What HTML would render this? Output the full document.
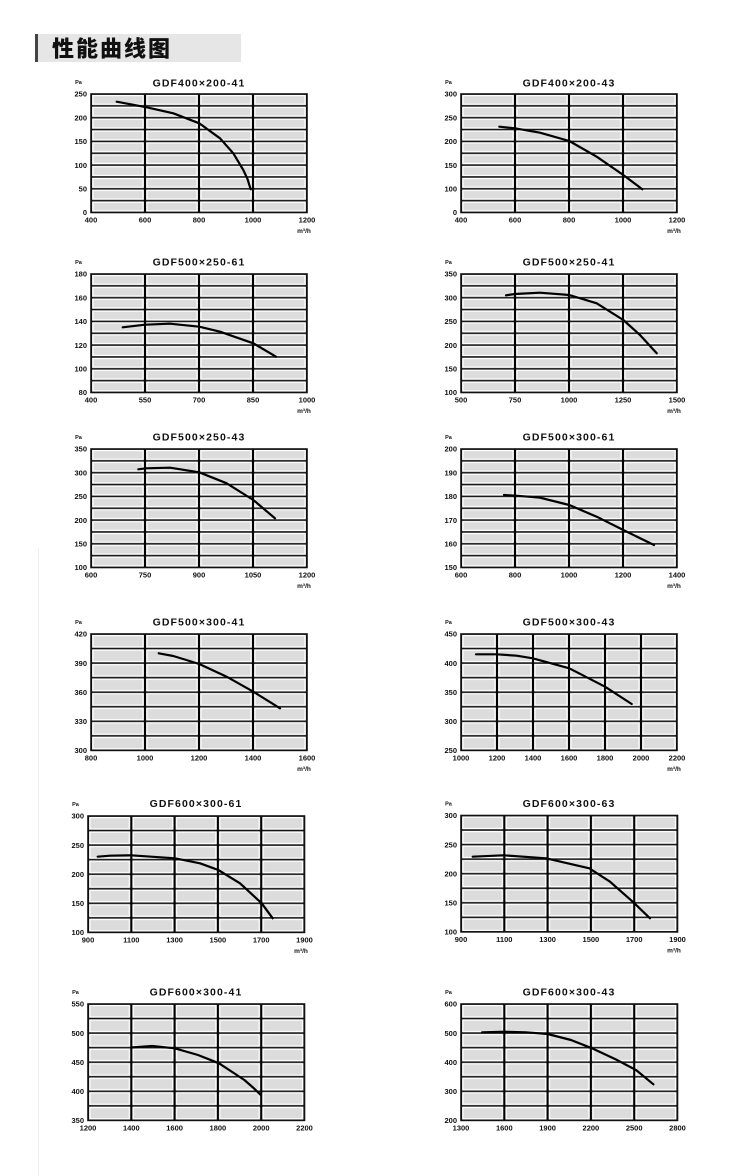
<!DOCTYPE html>
<html><head><meta charset="utf-8"><style>
html,body{margin:0;padding:0;background:#fff;}
svg{display:block;}
.t{font-family:"Liberation Sans",sans-serif;font-weight:bold;font-size:10.5px;letter-spacing:1.1px;text-anchor:middle;fill:#111;}
.y{font-family:"Liberation Sans",sans-serif;font-weight:bold;font-size:7.5px;text-anchor:end;fill:#111;}
.x{font-family:"Liberation Sans",sans-serif;font-weight:bold;font-size:7.5px;text-anchor:middle;fill:#111;}
.p{font-family:"Liberation Sans",sans-serif;font-weight:bold;font-size:5.5px;text-anchor:middle;fill:#111;}
.u{font-family:"Liberation Sans",sans-serif;font-weight:bold;font-size:6.5px;text-anchor:middle;fill:#111;}
.c{fill:none;stroke:#000;stroke-width:2.2;stroke-linejoin:round;stroke-linecap:round;}
.b{fill:none;stroke:#111;stroke-width:1.6;}
</style></head><body>
<svg width="750" height="1176" viewBox="0 0 750 1176" xmlns="http://www.w3.org/2000/svg">
<defs>
<pattern id="pA" patternUnits="userSpaceOnUse" width="54" height="11.85">
<rect width="54" height="11.85" fill="#fff"/>
<rect x="2.6" y="2.2" width="48.8" height="7.45" fill="#dcdcdc"/>
<rect width="54" height="0.8" fill="#111"/>
<rect y="11.05" width="54" height="0.8" fill="#111"/>
<rect width="1.1" height="11.85" fill="#000"/>
<rect x="52.9" width="1.1" height="11.85" fill="#000"/>
</pattern>
<pattern id="pC" patternUnits="userSpaceOnUse" width="54" height="14.55">
<rect width="54" height="14.55" fill="#fff"/>
<rect x="2.6" y="2.2" width="48.8" height="10.15" fill="#dcdcdc"/>
<rect width="54" height="0.8" fill="#111"/>
<rect y="13.75" width="54" height="0.8" fill="#111"/>
<rect width="1.1" height="14.55" fill="#000"/>
<rect x="52.9" width="1.1" height="14.55" fill="#000"/>
</pattern>
<pattern id="pD" patternUnits="userSpaceOnUse" width="36" height="14.55">
<rect width="36" height="14.55" fill="#fff"/>
<rect x="2.6" y="2.2" width="30.8" height="10.15" fill="#dcdcdc"/>
<rect width="36" height="0.8" fill="#111"/>
<rect y="13.75" width="36" height="0.8" fill="#111"/>
<rect width="1.1" height="14.55" fill="#000"/>
<rect x="34.9" width="1.1" height="14.55" fill="#000"/>
</pattern>
<pattern id="pE" patternUnits="userSpaceOnUse" width="43.3" height="14.55">
<rect width="43.3" height="14.55" fill="#fff"/>
<rect x="2.6" y="2.2" width="38.1" height="10.15" fill="#dcdcdc"/>
<rect width="43.3" height="0.8" fill="#111"/>
<rect y="13.75" width="43.3" height="0.8" fill="#111"/>
<rect width="1.1" height="14.55" fill="#000"/>
<rect x="42.2" width="1.1" height="14.55" fill="#000"/>
</pattern>
</defs>

<!-- header -->
<rect x="35" y="34" width="206" height="28" fill="#e6e6e6"/>
<rect x="35" y="34" width="3" height="28" fill="#444"/>
<text x="52" y="56.5" style="font-family:'Liberation Sans','Noto Sans CJK SC',sans-serif;font-weight:900;font-size:22px;letter-spacing:2px;fill:#111;">性能曲线图</text>
<line x1="38.5" y1="548" x2="38.5" y2="1176" stroke="#efefef" stroke-width="1"/>

<!-- Chart 1 -->
<g transform="translate(91,94)">
<rect width="216" height="118.5" fill="url(#pA)"/>
<rect width="216" height="118.5" class="b"/>
<polyline class="c" points="25.7,7.7 55.7,13.3 82.3,19.3 108.3,29.3 129,44.3 142.3,59.3 152.3,76 156.5,85 159.7,95.3"/>
<text class="t" x="108" y="-7.5">GDF400×200-41</text>
<text class="p" x="-12.5" y="-10">Pa</text>
<text class="y" x="-4" y="2.7">250</text><text class="y" x="-4" y="26.4">200</text><text class="y" x="-4" y="50.1">150</text><text class="y" x="-4" y="73.8">100</text><text class="y" x="-4" y="97.5">50</text><text class="y" x="-4" y="121.2">0</text>
<text class="x" x="0" y="128.5">400</text><text class="x" x="54" y="128.5">600</text><text class="x" x="108" y="128.5">800</text><text class="x" x="162" y="128.5">1000</text><text class="x" x="216" y="128.5">1200</text>
<text class="u" x="213" y="139">m³/h</text>
</g>

<!-- Chart 2 -->
<g transform="translate(461,94)">
<rect width="216" height="118.5" fill="url(#pA)"/>
<rect width="216" height="118.5" class="b"/>
<polyline class="c" points="38.3,32.7 54,34.3 79,38.7 108.3,47 135.7,62.7 162.3,81 181.3,95.3"/>
<text class="t" x="108" y="-7.5">GDF400×200-43</text>
<text class="p" x="-12.5" y="-10">Pa</text>
<text class="y" x="-4" y="2.7">300</text><text class="y" x="-4" y="26.4">250</text><text class="y" x="-4" y="50.1">200</text><text class="y" x="-4" y="73.8">150</text><text class="y" x="-4" y="97.5">100</text><text class="y" x="-4" y="121.2">0</text>
<text class="x" x="0" y="128.5">400</text><text class="x" x="54" y="128.5">600</text><text class="x" x="108" y="128.5">800</text><text class="x" x="162" y="128.5">1000</text><text class="x" x="216" y="128.5">1200</text>
<text class="u" x="213" y="139">m³/h</text>
</g>

<!-- Chart 3 -->
<g transform="translate(91,274)">
<rect width="216" height="118.5" fill="url(#pA)"/>
<rect width="216" height="118.5" class="b"/>
<polyline class="c" points="31.7,53.3 54,50.7 79,49.7 108.3,52.7 129,57.7 162.3,69.3 185,82.7"/>
<text class="t" x="108" y="-8.6">GDF500×250-61</text>
<text class="p" x="-12.5" y="-10">Pa</text>
<text class="y" x="-4" y="2.7">180</text><text class="y" x="-4" y="26.4">160</text><text class="y" x="-4" y="50.1">140</text><text class="y" x="-4" y="73.8">120</text><text class="y" x="-4" y="97.5">100</text><text class="y" x="-4" y="121.2">80</text>
<text class="x" x="0" y="128.5">400</text><text class="x" x="54" y="128.5">550</text><text class="x" x="108" y="128.5">700</text><text class="x" x="162" y="128.5">850</text><text class="x" x="216" y="128.5">1000</text>
<text class="u" x="213" y="139">m³/h</text>
</g>

<!-- Chart 4 -->
<g transform="translate(461,274)">
<rect width="216" height="118.5" fill="url(#pA)"/>
<rect width="216" height="118.5" class="b"/>
<polyline class="c" points="45,21.3 54,20 79,18.7 108.3,21 135.7,29.3 162.3,46 179,61 195.7,79.3"/>
<text class="t" x="108" y="-8.6">GDF500×250-41</text>
<text class="p" x="-12.5" y="-10">Pa</text>
<text class="y" x="-4" y="2.7">350</text><text class="y" x="-4" y="26.4">300</text><text class="y" x="-4" y="50.1">250</text><text class="y" x="-4" y="73.8">200</text><text class="y" x="-4" y="97.5">150</text><text class="y" x="-4" y="121.2">100</text>
<text class="x" x="0" y="128.5">500</text><text class="x" x="54" y="128.5">750</text><text class="x" x="108" y="128.5">1000</text><text class="x" x="162" y="128.5">1250</text><text class="x" x="216" y="128.5">1500</text>
<text class="u" x="213" y="139">m³/h</text>
</g>

<!-- Chart 5 -->
<g transform="translate(91,449)">
<rect width="216" height="118.5" fill="url(#pA)"/>
<rect width="216" height="118.5" class="b"/>
<polyline class="c" points="47.3,20.3 55,19.3 79,18.7 108.3,23.3 135.7,34.3 162.3,51 184,69.3"/>
<text class="t" x="108" y="-8.6">GDF500×250-43</text>
<text class="p" x="-12.5" y="-10">Pa</text>
<text class="y" x="-4" y="2.7">350</text><text class="y" x="-4" y="26.4">300</text><text class="y" x="-4" y="50.1">250</text><text class="y" x="-4" y="73.8">200</text><text class="y" x="-4" y="97.5">150</text><text class="y" x="-4" y="121.2">100</text>
<text class="x" x="0" y="128.5">600</text><text class="x" x="54" y="128.5">750</text><text class="x" x="108" y="128.5">900</text><text class="x" x="162" y="128.5">1050</text><text class="x" x="216" y="128.5">1200</text>
<text class="u" x="213" y="139">m³/h</text>
</g>

<!-- Chart 6 -->
<g transform="translate(461,449)">
<rect width="216" height="118.5" fill="url(#pA)"/>
<rect width="216" height="118.5" class="b"/>
<polyline class="c" points="43,46 55,46.7 79,48.7 108.3,56 135.7,67.7 162.3,81 193,96"/>
<text class="t" x="108" y="-8.6">GDF500×300-61</text>
<text class="p" x="-12.5" y="-10">Pa</text>
<text class="y" x="-4" y="2.7">200</text><text class="y" x="-4" y="26.4">190</text><text class="y" x="-4" y="50.1">180</text><text class="y" x="-4" y="73.8">170</text><text class="y" x="-4" y="97.5">160</text><text class="y" x="-4" y="121.2">150</text>
<text class="x" x="0" y="128.5">600</text><text class="x" x="54" y="128.5">800</text><text class="x" x="108" y="128.5">1000</text><text class="x" x="162" y="128.5">1200</text><text class="x" x="216" y="128.5">1400</text>
<text class="u" x="213" y="139">m³/h</text>
</g>

<!-- Chart 7 -->
<g transform="translate(91,634)">
<rect width="216" height="116.4" fill="url(#pC)"/>
<rect width="216" height="116.4" class="b"/>
<polyline class="c" points="67.7,19.3 82.3,22 108.3,30 135.7,42.7 162.3,57.7 189,74.3"/>
<text class="t" x="108" y="-8.6">GDF500×300-41</text>
<text class="p" x="-12.5" y="-10">Pa</text>
<text class="y" x="-4" y="2.7">420</text><text class="y" x="-4" y="31.8">390</text><text class="y" x="-4" y="60.9">360</text><text class="y" x="-4" y="90">330</text><text class="y" x="-4" y="119.1">300</text>
<text class="x" x="0" y="126.4">800</text><text class="x" x="54" y="126.4">1000</text><text class="x" x="108" y="126.4">1200</text><text class="x" x="162" y="126.4">1400</text><text class="x" x="216" y="126.4">1600</text>
<text class="u" x="213" y="137">m³/h</text>
</g>

<!-- Chart 8 -->
<g transform="translate(461,634)">
<rect width="216" height="116.4" fill="url(#pD)"/>
<rect width="216" height="116.4" class="b"/>
<polyline class="c" points="15,20.3 35.7,20.3 55.7,21.7 71.7,24.3 108.3,34.3 144,52.7 170.7,70"/>
<text class="t" x="108" y="-8.6">GDF500×300-43</text>
<text class="p" x="-12.5" y="-10">Pa</text>
<text class="y" x="-4" y="2.7">450</text><text class="y" x="-4" y="31.8">400</text><text class="y" x="-4" y="60.9">350</text><text class="y" x="-4" y="90">300</text><text class="y" x="-4" y="119.1">250</text>
<text class="x" x="0" y="126.4">1000</text><text class="x" x="36" y="126.4">1200</text><text class="x" x="72" y="126.4">1400</text><text class="x" x="108" y="126.4">1600</text><text class="x" x="144" y="126.4">1800</text><text class="x" x="180" y="126.4">2000</text><text class="x" x="216" y="126.4">2200</text>
<text class="u" x="213" y="137">m³/h</text>
</g>

<!-- Chart 9 -->
<g transform="translate(88,816)">
<rect width="216.5" height="116.4" fill="url(#pE)"/>
<rect width="216.5" height="116.4" class="b"/>
<polyline class="c" points="9.7,40.7 22,39.7 43,39.3 87,42.3 112,47.3 130.3,54 152,67.3 173.7,87.3 184.7,102.3"/>
<text class="t" x="108" y="-9">GDF600×300-61</text>
<text class="p" x="-12.5" y="-10">Pa</text>
<text class="y" x="-4" y="2.7">300</text><text class="y" x="-4" y="31.8">250</text><text class="y" x="-4" y="60.9">200</text><text class="y" x="-4" y="90">150</text><text class="y" x="-4" y="119.1">100</text>
<text class="x" x="0" y="126.4">900</text><text class="x" x="43.3" y="126.4">1100</text><text class="x" x="86.6" y="126.4">1300</text><text class="x" x="129.9" y="126.4">1500</text><text class="x" x="173.2" y="126.4">1700</text><text class="x" x="216.5" y="126.4">1900</text>
<text class="u" x="213" y="137">m³/h</text>
</g>

<!-- Chart 10 -->
<g transform="translate(461,815.5)">
<rect width="216.5" height="116.4" fill="url(#pE)"/>
<rect width="216.5" height="116.4" class="b"/>
<polyline class="c" points="11.7,41.2 42.3,39.8 85,42.8 128.3,52.8 149,66.2 171.7,86.2 189,102.8"/>
<text class="t" x="108" y="-8.6">GDF600×300-63</text>
<text class="p" x="-12.5" y="-10">Pa</text>
<text class="y" x="-4" y="2.7">300</text><text class="y" x="-4" y="31.8">250</text><text class="y" x="-4" y="60.9">200</text><text class="y" x="-4" y="90">150</text><text class="y" x="-4" y="119.1">100</text>
<text class="x" x="0" y="126.4">900</text><text class="x" x="43.3" y="126.4">1100</text><text class="x" x="86.6" y="126.4">1300</text><text class="x" x="129.9" y="126.4">1500</text><text class="x" x="173.2" y="126.4">1700</text><text class="x" x="216.5" y="126.4">1900</text>
<text class="u" x="213" y="137">m³/h</text>
</g>

<!-- Chart 11 -->
<g transform="translate(88,1004)">
<rect width="216.5" height="116.4" fill="url(#pE)"/>
<rect width="216.5" height="116.4" class="b"/>
<polyline class="c" points="45,43.3 64.2,42 86.8,44.3 110,51 131,59.3 145,68.5 156.4,76 165,83.5 172.8,91"/>
<text class="t" x="108" y="-8.6">GDF600×300-41</text>
<text class="p" x="-12.5" y="-10">Pa</text>
<text class="y" x="-4" y="2.7">550</text><text class="y" x="-4" y="31.8">500</text><text class="y" x="-4" y="60.9">450</text><text class="y" x="-4" y="90">400</text><text class="y" x="-4" y="119.1">350</text>
<text class="x" x="0" y="126.4">1200</text><text class="x" x="43.3" y="126.4">1400</text><text class="x" x="86.6" y="126.4">1600</text><text class="x" x="129.9" y="126.4">1800</text><text class="x" x="173.2" y="126.4">2000</text><text class="x" x="216.5" y="126.4">2200</text>
</g>

<!-- Chart 12 -->
<g transform="translate(461,1004)">
<rect width="216.5" height="116.4" fill="url(#pE)"/>
<rect width="216.5" height="116.4" class="b"/>
<polyline class="c" points="21.1,28.3 43.7,27.7 65,28.3 86.7,30 110,36 131,44.3 155,55.5 175,66 192.4,80.3"/>
<text class="t" x="108" y="-8.6">GDF600×300-43</text>
<text class="p" x="-12.5" y="-10">Pa</text>
<text class="y" x="-4" y="2.7">600</text><text class="y" x="-4" y="31.8">500</text><text class="y" x="-4" y="60.9">400</text><text class="y" x="-4" y="90">300</text><text class="y" x="-4" y="119.1">200</text>
<text class="x" x="0" y="126.4">1300</text><text class="x" x="43.3" y="126.4">1600</text><text class="x" x="86.6" y="126.4">1900</text><text class="x" x="129.9" y="126.4">2200</text><text class="x" x="173.2" y="126.4">2500</text><text class="x" x="216.5" y="126.4">2800</text>
</g>
</svg>
</body></html>
